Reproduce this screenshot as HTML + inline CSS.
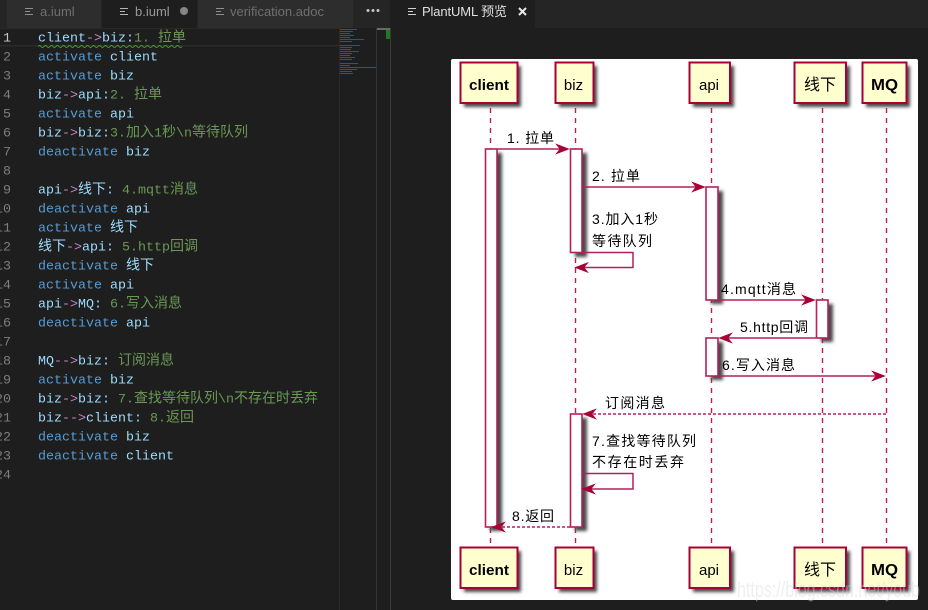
<!DOCTYPE html>
<html><head><meta charset="utf-8"><title>PlantUML preview</title>
<style>
html,body{margin:0;padding:0;background:#1e1e1e;width:928px;height:610px;overflow:hidden}
svg{display:block}
.ln{font:13.33px "Liberation Mono",monospace;fill:#7d7d7d;text-anchor:end}
.c{font:13.33px "Liberation Mono","Noto Sans CJK SC",monospace;fill:#9cdcfe}
.c tspan.k{fill:#569cd6}.c tspan.a{fill:#c586c0}.c tspan.s{fill:#6a9955}
.z{font-family:"Noto Sans CJK SC",sans-serif;font-size:14px}
.tab{font:13px "Liberation Sans",sans-serif;fill:#6f6f6f}
.act{font:15px "Liberation Sans","Noto Sans CJK SC",sans-serif;fill:#000;text-anchor:middle}
.msg{font:14px "Liberation Sans","WenQuanYi Zen Hei","Noto Sans CJK SC",sans-serif;fill:#000}
.box{fill:#fefece;stroke:#a80036;stroke-width:2}
.ab{fill:#fff;stroke:#b5205a;stroke-width:1.6}
.life{stroke:#b5205a;stroke-width:1.4;stroke-dasharray:5 5;fill:none}
.ar{stroke:#b5205a;stroke-width:1.5;fill:none}
.dash{stroke-dasharray:3 2}
.hd{fill:#a80036;stroke:#a80036;stroke-width:.6}
.sh{fill:#4a4a4a;filter:url(#b)}
</style></head><body>
<svg width="928" height="610" viewBox="0 0 928 610" xmlns="http://www.w3.org/2000/svg">
<defs><filter id="b" x="-40%" y="-30%" width="180%" height="160%"><feGaussianBlur stdDeviation="1.6"/></filter></defs>
<rect width="928" height="610" fill="#1e1e1e"/>
<!-- tab bar -->
<rect width="928" height="28" fill="#252526"/>
<rect x="7" width="94" height="28" fill="#2d2d2d"/>
<rect x="102" width="95" height="28" fill="#1e1e1e"/>
<rect x="198" width="155" height="28" fill="#2d2d2d"/>
<rect x="390" width="145" height="28" fill="#1e1e1e"/>
<g stroke="#8f8f8f" stroke-width="1">
<path d="M25 8.500h8M25 11.500h5M25 14.500h8"/>
<path d="M120 8.500h8M120 11.500h5M120 14.500h8" stroke="#b5b5b5"/>
<path d="M216 8.500h8M216 11.500h5M216 14.500h8"/>
<path d="M408 8.500h8M408 11.500h5M408 14.500h8" stroke="#d0d0d0"/>
</g>
<text class="tab" x="40" y="16">a.iuml</text>
<text class="tab" x="135" y="16" style="fill:#9a9a9a">b.iuml</text>
<circle cx="184" cy="11" r="4" fill="#858585"/>
<text class="tab" x="230" y="16">verification.adoc</text>
<g fill="#c5c5c5"><circle cx="368" cy="10.500" r="1.500"/><circle cx="373" cy="10.500" r="1.500"/><circle cx="378" cy="10.500" r="1.500"/></g>
<text class="tab" x="422" y="16" style="fill:#e0e0e0" textLength="85" lengthAdjust="spacing">PlantUML <tspan font-family="Noto Sans CJK SC">预览</tspan></text>
<path d="M519 8l7 7M526 8l-7 7" stroke="#e8e8e8" stroke-width="2"/>
<!-- editor -->
<rect x="0" y="28" width="340" height="1" fill="#282828"/>
<rect x="0" y="45" width="340" height="1.500" fill="#2b2b2b"/>
<path d="M38 46.500q1.500-2 3 0t3 0 3 0 3 0 3 0 3 0 3 0 3 0 3 0 3 0 3 0 3 0 3 0 3 0 3 0 3 0 3 0 3 0 3 0 3 0 3 0 3 0 3 0 3 0 3 0 3 0 3 0 3 0 3 0 3 0 3 0 3 0 3 0 3 0 3 0 3 0 3 0 3 0 3 0 3 0 3 0 3 0 3 0 3 0 3 0 3 0 3 0 3 0" fill="none" stroke="#4a9a34" stroke-width="1"/>
<g>
<text class="ln" x="11" y="41.500" style="fill:#c6c6c6">1</text>
<text class="ln" x="11" y="60.500">2</text><text class="ln" x="11" y="79.500">3</text><text class="ln" x="11" y="98.500">4</text>
<text class="ln" x="11" y="117.500">5</text><text class="ln" x="11" y="136.500">6</text><text class="ln" x="11" y="155.500">7</text>
<text class="ln" x="11" y="174.500">8</text><text class="ln" x="11" y="193.500">9</text><text class="ln" x="11" y="212.500">10</text>
<text class="ln" x="11" y="231.500">11</text><text class="ln" x="11" y="250.500">12</text><text class="ln" x="11" y="269.500">13</text>
<text class="ln" x="11" y="288.500">14</text><text class="ln" x="11" y="307.500">15</text><text class="ln" x="11" y="326.500">16</text>
<text class="ln" x="11" y="345.500">17</text><text class="ln" x="11" y="364.500">18</text><text class="ln" x="11" y="383.500">19</text>
<text class="ln" x="11" y="402.500">20</text><text class="ln" x="11" y="421.500">21</text><text class="ln" x="11" y="440.500">22</text>
<text class="ln" x="11" y="459.500">23</text><text class="ln" x="11" y="478.500">24</text>
</g>
<g xml:space="preserve">
<text class="c" x="38" y="41.500">client<tspan class="a">-&gt;</tspan>biz:<tspan class="s">1. <tspan class="z">拉单</tspan></tspan></text>
<text class="c" x="38" y="60.500"><tspan class="k">activate</tspan> client</text>
<text class="c" x="38" y="79.500"><tspan class="k">activate</tspan> biz</text>
<text class="c" x="38" y="98.500">biz<tspan class="a">-&gt;</tspan>api:<tspan class="s">2. <tspan class="z">拉单</tspan></tspan></text>
<text class="c" x="38" y="117.500"><tspan class="k">activate</tspan> api</text>
<text class="c" x="38" y="136.500">biz<tspan class="a">-&gt;</tspan>biz:<tspan class="s">3.<tspan class="z">加入</tspan>1<tspan class="z">秒</tspan>\n<tspan class="z">等待队列</tspan></tspan></text>
<text class="c" x="38" y="155.500"><tspan class="k">deactivate</tspan> biz</text>
<text class="c" x="38" y="193.500">api<tspan class="a">-&gt;</tspan><tspan class="z">线下</tspan>: <tspan class="s">4.mqtt<tspan class="z">消息</tspan></tspan></text>
<text class="c" x="38" y="212.500"><tspan class="k">deactivate</tspan> api</text>
<text class="c" x="38" y="231.500"><tspan class="k">activate</tspan> <tspan class="z">线下</tspan></text>
<text class="c" x="38" y="250.500"><tspan class="z">线下</tspan><tspan class="a">-&gt;</tspan>api: <tspan class="s">5.http<tspan class="z">回调</tspan></tspan></text>
<text class="c" x="38" y="269.500"><tspan class="k">deactivate</tspan> <tspan class="z">线下</tspan></text>
<text class="c" x="38" y="288.500"><tspan class="k">activate</tspan> api</text>
<text class="c" x="38" y="307.500">api<tspan class="a">-&gt;</tspan>MQ: <tspan class="s">6.<tspan class="z">写入消息</tspan></tspan></text>
<text class="c" x="38" y="326.500"><tspan class="k">deactivate</tspan> api</text>
<text class="c" x="38" y="364.500">MQ<tspan class="a">--&gt;</tspan>biz: <tspan class="s z">订阅消息</tspan></text>
<text class="c" x="38" y="383.500"><tspan class="k">activate</tspan> biz</text>
<text class="c" x="38" y="402.500">biz<tspan class="a">-&gt;</tspan>biz: <tspan class="s">7.<tspan class="z">查找等待队列</tspan>\n<tspan class="z">不存在时丢弃</tspan></tspan></text>
<text class="c" x="38" y="421.500">biz<tspan class="a">--&gt;</tspan>client: <tspan class="s">8.<tspan class="z">返回</tspan></tspan></text>
<text class="c" x="38" y="440.500"><tspan class="k">deactivate</tspan> biz</text>
<text class="c" x="38" y="459.500"><tspan class="k">deactivate</tspan> client</text>
</g>
<!-- minimap -->
<rect x="339" y="28" width="1" height="582" fill="#2a2a2a"/>
<rect x="376" y="28" width="1" height="582" fill="#333"/>
<rect x="390" y="28" width="1" height="582" fill="#3a3a3a"/>
<rect x="377" y="28" width="13" height="2" fill="#6a6a6a"/>
<rect x="386" y="30" width="4" height="9" fill="#1f7a1f"/>
<g fill="#2f5670">
<rect x="340" y="29" width="17" height="1"/><rect x="340" y="31" width="13" height="1"/><rect x="340" y="33" width="10" height="1"/>
<rect x="340" y="35" width="14" height="1"/><rect x="340" y="37" width="10" height="1"/><rect x="340" y="39" width="24" height="1"/>
<rect x="340" y="41" width="12" height="1"/><rect x="340" y="45" width="20" height="1"/><rect x="340" y="47" width="12" height="1"/>
<rect x="340" y="49" width="11" height="1"/><rect x="340" y="51" width="19" height="1"/><rect x="340" y="53" width="12" height="1"/>
<rect x="340" y="55" width="10" height="1"/><rect x="340" y="57" width="15" height="1"/><rect x="340" y="59" width="12" height="1"/>
<rect x="340" y="63" width="18" height="1"/><rect x="340" y="65" width="10" height="1"/><rect x="340" y="67" width="36" height="1"/>
<rect x="340" y="69" width="17" height="1"/><rect x="340" y="71" width="12" height="1"/><rect x="340" y="73" width="13" height="1"/>
</g>
<!-- preview panel -->
<rect x="451" y="59" width="467" height="541" rx="2" fill="#fff"/>
<path class="life" d="M490.500 108V547M575.500 108V547M711.500 108V547M822.500 108V547M886.500 108V547"/>
<!-- shadows -->
<rect class="sh" x="464" y="66" width="57" height="41"/><rect class="sh" x="559" y="66" width="38" height="41"/>
<rect class="sh" x="693" y="66" width="41" height="41"/><rect class="sh" x="798" y="66" width="52" height="41"/>
<rect class="sh" x="866" y="66" width="44" height="41"/>
<rect class="sh" x="464" y="551" width="57" height="41"/><rect class="sh" x="559" y="551" width="38" height="41"/>
<rect class="sh" x="693" y="551" width="41" height="41"/><rect class="sh" x="798" y="551" width="52" height="41"/>
<rect class="sh" x="866" y="551" width="44" height="41"/>
<rect class="sh" x="490" y="153" width="12" height="378"/><rect class="sh" x="575" y="153" width="12" height="104"/>
<rect class="sh" x="575" y="418" width="12" height="113"/><rect class="sh" x="711" y="191" width="12" height="113"/>
<rect class="sh" x="821" y="304" width="12" height="38"/><rect class="sh" x="711" y="342" width="12" height="38"/>
<!-- actors -->
<rect class="box" x="460.500" y="62.500" width="57" height="40.500"/><rect class="box" x="555.500" y="62.500" width="38" height="40.500"/>
<rect class="box" x="689.500" y="62.500" width="40.500" height="40.500"/><rect class="box" x="794.500" y="62.500" width="51.500" height="40.500"/>
<rect class="box" x="862.500" y="62.500" width="44" height="40.500"/>
<rect class="box" x="460.500" y="547.500" width="57" height="40.500"/><rect class="box" x="555.500" y="547.500" width="38" height="40.500"/>
<rect class="box" x="689.500" y="547.500" width="40.500" height="40.500"/><rect class="box" x="794.500" y="547.500" width="51.500" height="40.500"/>
<rect class="box" x="862.500" y="547.500" width="44" height="40.500"/>
<text class="act" x="489" y="90" style="font-weight:bold" textLength="40" lengthAdjust="spacingAndGlyphs">client</text>
<text class="act" x="573.500" y="90">biz</text><text class="act" x="709" y="90">api</text>
<text class="act" x="820" y="90" style="font-size:16px" textLength="32" lengthAdjust="spacing">线下</text>
<text class="act" x="884.500" y="90" style="font-weight:bold;font-size:16px" textLength="27" lengthAdjust="spacingAndGlyphs">MQ</text>
<text class="act" x="489" y="575" style="font-weight:bold" textLength="40" lengthAdjust="spacingAndGlyphs">client</text>
<text class="act" x="573.500" y="575">biz</text><text class="act" x="709" y="575">api</text>
<text class="act" x="820" y="575" style="font-size:16px" textLength="32" lengthAdjust="spacing">线下</text>
<text class="act" x="884.500" y="575" style="font-weight:bold;font-size:16px" textLength="27" lengthAdjust="spacingAndGlyphs">MQ</text>
<!-- activations -->
<rect class="ab" x="485.500" y="149" width="11.500" height="378"/>
<rect class="ab" x="570.500" y="149" width="11.500" height="103.500"/>
<rect class="ab" x="570.500" y="414" width="11.500" height="113"/>
<rect class="ab" x="706" y="187" width="12" height="113"/>
<rect class="ab" x="816.500" y="300" width="11.500" height="38"/>
<rect class="ab" x="706" y="338" width="12" height="38"/>
<!-- messages -->
<path class="ar" d="M497 149H565"/><path class="hd" d="M569 149l-13-5 4 5-4 5z"/>
<path class="ar" d="M582 187H701"/><path class="hd" d="M705 187l-13-5 4 5-4 5z"/>
<path class="ar" d="M582 252.500H633V267.500H580"/><path class="hd" d="M575 267.500l13-5-4 5 4 5z"/>
<path class="ar" d="M718 300H811"/><path class="hd" d="M815 300l-13-5 4 5-4 5z"/>
<path class="ar" d="M816 338H723"/><path class="hd" d="M719 338l13-5-4 5 4 5z"/>
<path class="ar" d="M718 376H881"/><path class="hd" d="M885 376l-13-5 4 5-4 5z"/>
<path class="ar dash" d="M886 414H588"/><path class="hd" d="M583 414l13-5-4 5 4 5z"/>
<path class="ar" d="M582 473.500H633V489H587"/><path class="hd" d="M582 489l13-5-4 5 4 5z"/>
<path class="ar dash" d="M570 527H497"/><path class="hd" d="M492 527l13-5-4 5 4 5z"/>
<text class="msg" x="507" y="143" textLength="47" lengthAdjust="spacing">1. 拉单</text>
<text class="msg" x="592" y="181" textLength="48" lengthAdjust="spacing">2. 拉单</text>
<text class="msg" x="592" y="224" textLength="66" lengthAdjust="spacing">3.加入1秒</text>
<text class="msg" x="592" y="246" textLength="60" lengthAdjust="spacing">等待队列</text>
<text class="msg" x="721" y="294" textLength="75" lengthAdjust="spacing">4.mqtt消息</text>
<text class="msg" x="740" y="332" textLength="68" lengthAdjust="spacing">5.http回调</text>
<text class="msg" x="722" y="370" textLength="73" lengthAdjust="spacing">6.写入消息</text>
<text class="msg" x="605" y="408" textLength="60" lengthAdjust="spacing">订阅消息</text>
<text class="msg" x="592" y="446" textLength="104" lengthAdjust="spacing">7.查找等待队列</text>
<text class="msg" x="592" y="467" textLength="92" lengthAdjust="spacing">不存在时丢弃</text>
<text class="msg" x="512" y="521" textLength="42" lengthAdjust="spacing">8.返回</text>
<!-- watermark -->
<text x="737" y="597" font-family="Liberation Sans,sans-serif" font-size="22" fill="#d8d8d8" fill-opacity=".4" textLength="183" lengthAdjust="spacingAndGlyphs">https://blog.csdn.net/youb</text>
</svg>
</body></html>
